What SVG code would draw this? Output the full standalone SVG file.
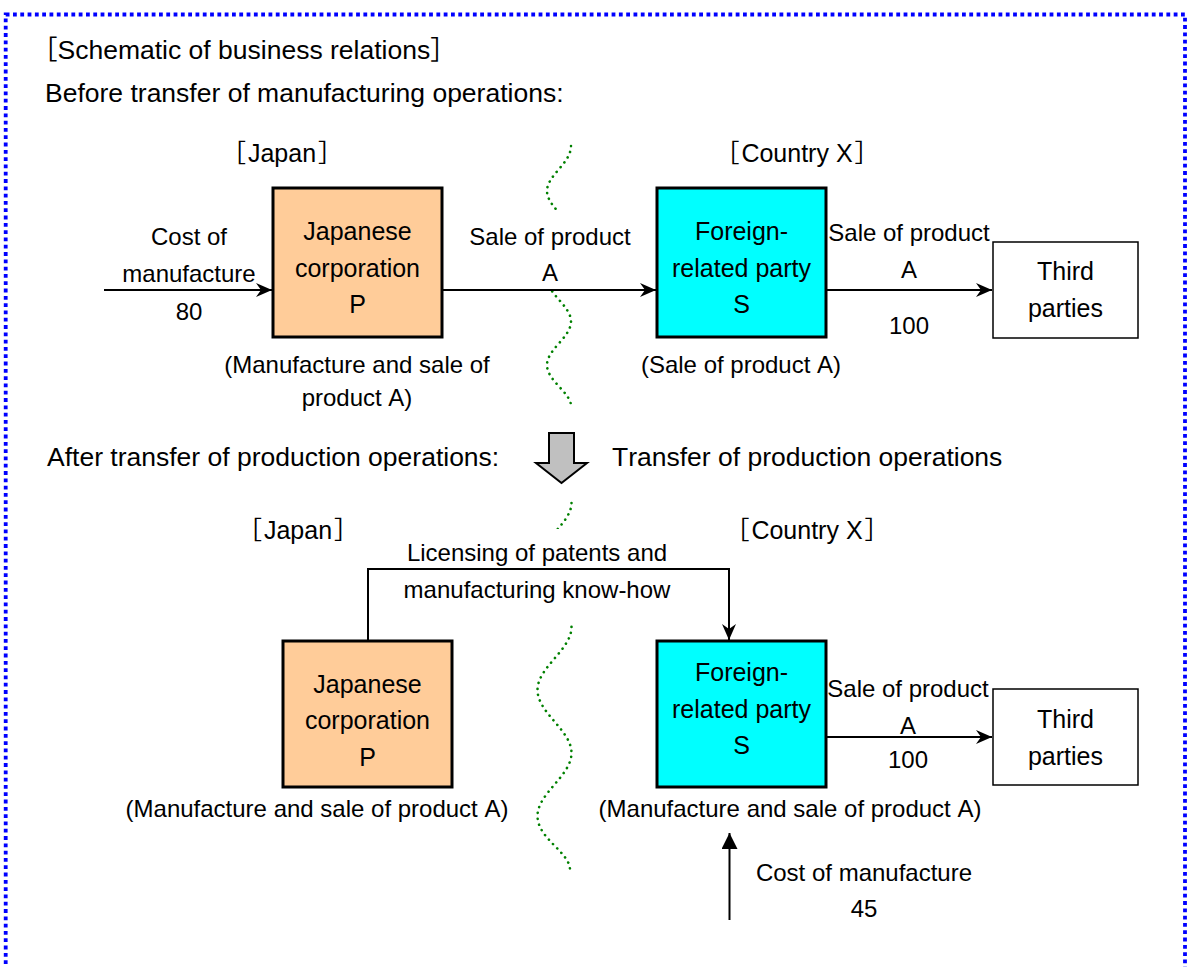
<svg xmlns="http://www.w3.org/2000/svg" width="1187" height="967" viewBox="0 0 1187 967">
<style>
text{font-family:"Liberation Sans","Noto Sans CJK JP",Arial,sans-serif;fill:#000;font-kerning:none}
.h{font-size:26.5px}
.lb{font-size:24px}
.rg{font-size:25px;text-anchor:middle}
.bx{font-size:25px;text-anchor:middle}
.c{text-anchor:middle}
.conn{fill:none;stroke:#000;stroke-width:2}
.wave{fill:none;stroke:#008000;stroke-width:2.6;stroke-linecap:round;stroke-dasharray:0.1 5.9}
.peach{fill:#FFCC99;stroke:#000;stroke-width:3}
.cyan{fill:#00FFFF;stroke:#000;stroke-width:3}
.plain{fill:#fff;stroke:#000;stroke-width:1.5}
</style>
<defs>
<marker id="ah" viewBox="0 0 16 14" refX="16" refY="7" markerWidth="16" markerHeight="14" markerUnits="userSpaceOnUse" orient="auto">
<path d="M0,0 L16,7 L0,14 L5,7 z" fill="#000"/>
</marker>
<marker id="tri" viewBox="0 0 16 16" refX="16" refY="8" markerWidth="16" markerHeight="16" markerUnits="userSpaceOnUse" orient="auto">
<path d="M0,0 L16,8 L0,16 z" fill="#000"/>
</marker>
</defs>
<rect width="1187" height="967" fill="#fff"/>
<rect x="5.7" y="14.5" width="1179.3" height="1000" fill="none" stroke="#0000FF" stroke-width="3.8" stroke-dasharray="3.8 3.5"/>

<g id="headings">
<text class="h" x="31" y="59">［Schematic of business relations］</text>
<text class="h" x="45" y="102">Before transfer of manufacturing operations:</text>
<text class="h" x="47" y="466">After transfer of production operations:</text>
<text class="h" x="612" y="466">Transfer of production operations</text>
<text class="rg" x="282" y="162">［<tspan dx="2">Japan</tspan><tspan dx="2">］</tspan></text>
<text class="rg" x="797" y="162">［<tspan dx="2">Country X</tspan><tspan dx="2">］</tspan></text>
<text class="rg" x="298" y="539">［<tspan dx="2">Japan</tspan><tspan dx="2">］</tspan></text>
<text class="rg" x="807" y="539">［<tspan dx="2">Country X</tspan><tspan dx="2">］</tspan></text>
</g>

<g id="borders">
<path class="wave" d="M571,146 C571,163.3 547,175.2 547,191 C547,206.8 571,218.7 571,234.5 C571,250.3 547,262.2 547,278 C547,293.8 571,305.7 571,321.5 C571,337.3 547,349.2 547,365 C547,380.8 571,392.7 571,406"/>
<path class="wave" d="M571.5,503 C571.5,524 537.5,541 537.5,564 C537.5,586.9 571.5,604.1 571.5,627 C571.5,649.9 537.5,667.1 537.5,690 C537.5,712.9 571.5,730.1 571.5,753 C571.5,775.9 537.5,793.1 537.5,816 C537.5,838.9 570,852 570,870"/>
<rect x="468" y="211" width="164" height="77" fill="#fff"/>
<rect x="400" y="529" width="272" height="96" fill="#fff"/>
</g>

<g id="transfer-arrow">
<path d="M549,433 L574,433 L574,463 L587,463 L561.5,483 L536,463 L549,463 Z" fill="#C0C0C0" stroke="#000" stroke-width="2"/>
</g>

<g id="connectors">
<line class="conn" x1="104" y1="290" x2="272" y2="290" marker-end="url(#ah)"/>
<line class="conn" x1="442" y1="290" x2="656" y2="290" marker-end="url(#ah)"/>
<line class="conn" x1="826" y1="290" x2="992" y2="290" marker-end="url(#ah)"/>
<polyline class="conn" points="368,641 368,569 729,569 729,640" marker-end="url(#ah)"/>
<line class="conn" x1="826" y1="737" x2="992" y2="737" marker-end="url(#ah)"/>
<line class="conn" x1="729.5" y1="920" x2="729.5" y2="833" marker-end="url(#tri)"/>
</g>

<g id="labels">
<text class="lb c" x="189" y="245">Cost of</text>
<text class="lb c" x="189" y="282">manufacture</text>
<text class="lb c" x="189" y="320">80</text>
<text class="lb c" x="550" y="245">Sale of product</text>
<text class="lb c" x="550" y="281">A</text>
<text class="lb c" x="909" y="241">Sale of product</text>
<text class="lb c" x="909" y="278">A</text>
<text class="lb c" x="909" y="334">100</text>
<text class="lb c" x="357" y="373">(Manufacture and sale of</text>
<text class="lb c" x="357" y="406">product A)</text>
<text class="lb c" x="741" y="373">(Sale of product A)</text>
<text class="lb c" x="537" y="561">Licensing of patents and</text>
<text class="lb c" x="537" y="598">manufacturing know-how</text>
<text class="lb c" x="908" y="697">Sale of product</text>
<text class="lb c" x="908" y="734">A</text>
<text class="lb c" x="908" y="768">100</text>
<text class="lb c" x="317" y="817">(Manufacture and sale of product A)</text>
<text class="lb c" x="790" y="817">(Manufacture and sale of product A)</text>
<text class="lb c" x="864" y="881">Cost of manufacture</text>
<text class="lb c" x="864" y="917">45</text>
</g>

<g id="node-P-before">
<rect class="peach" x="273" y="188" width="169" height="149"/>
<text class="bx" x="357.5" y="240">Japanese</text>
<text class="bx" x="357.5" y="276.5">corporation</text>
<text class="bx" x="357.5" y="313">P</text>
</g>
<g id="node-S-before">
<rect class="cyan" x="657" y="188" width="169" height="149"/>
<text class="bx" x="741.5" y="240">Foreign-</text>
<text class="bx" x="741.5" y="276.5">related party</text>
<text class="bx" x="741.5" y="313">S</text>
</g>
<g id="node-third-before">
<rect class="plain" x="993" y="242" width="145" height="96"/>
<text class="bx" x="1065.5" y="280">Third</text>
<text class="bx" x="1065.5" y="317">parties</text>
</g>
<g id="node-P-after">
<rect class="peach" x="283" y="641" width="169" height="146"/>
<text class="bx" x="367.5" y="693">Japanese</text>
<text class="bx" x="367.5" y="729">corporation</text>
<text class="bx" x="367.5" y="766">P</text>
</g>
<g id="node-S-after">
<rect class="cyan" x="657" y="641" width="169" height="146"/>
<text class="bx" x="741.5" y="681">Foreign-</text>
<text class="bx" x="741.5" y="718">related party</text>
<text class="bx" x="741.5" y="754">S</text>
</g>
<g id="node-third-after">
<rect class="plain" x="993" y="689" width="145" height="96"/>
<text class="bx" x="1065.5" y="728">Third</text>
<text class="bx" x="1065.5" y="765">parties</text>
</g>
</svg>
